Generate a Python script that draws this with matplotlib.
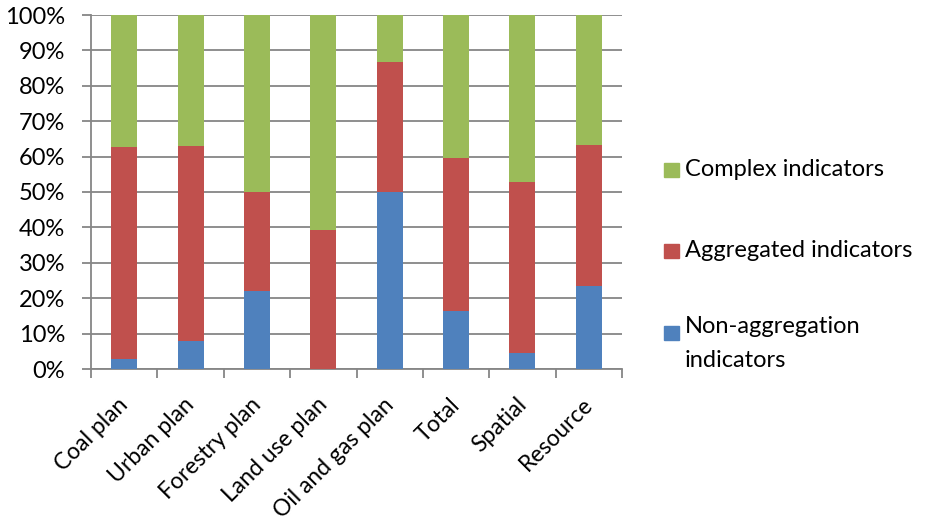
import matplotlib.pyplot as plt
import matplotlib.transforms as mtransforms
from matplotlib.patches import Rectangle
from matplotlib.ticker import PercentFormatter
import numpy as np

plt.rcParams['font.family'] = ['Lato', 'DejaVu Sans']

categories = ["Coal plan", "Urban plan", "Forestry plan", "Land use plan",
              "Oil and gas plan", "Total", "Spatial", "Resource"]
non_aggregation = [2.7, 7.8, 21.9, 0.0, 50.0, 16.4, 4.4, 23.4]
aggregated = [60.0, 55.3, 28.1, 39.2, 36.6, 43.2, 48.5, 40.0]
complex_ind = [100 - a - b for a, b in zip(non_aggregation, aggregated)]

blue = "#4F81BD"
red = "#C0504D"
green = "#9BBB59"
grid_col = "#868686"
fs = 17

fig = plt.figure(figsize=(9.27, 5.24), dpi=100)
ax = fig.add_axes([91 / 927, 1 - 369 / 524, 531 / 927, 354 / 524])

x = np.arange(len(categories))
w = 0.39
ax.bar(x, non_aggregation, w, color=blue, linewidth=0, zorder=3)
ax.bar(x, aggregated, w, bottom=non_aggregation, color=red, linewidth=0, zorder=3)
bottom2 = [a + b for a, b in zip(non_aggregation, aggregated)]
ax.bar(x, complex_ind, w, bottom=bottom2, color=green, linewidth=0, zorder=3)

ax.set_xlim(-0.5, len(categories) - 0.5)
ax.set_ylim(0, 100)
ax.set_yticks(np.arange(0, 101, 10))
ax.yaxis.set_major_formatter(PercentFormatter(decimals=0))
ax.yaxis.grid(True, color=grid_col, linewidth=1.3, zorder=0)

# category boundary ticks on the x axis, names centred under the bars
ax.set_xticks(np.arange(-0.5, len(categories), 1))
ax.set_xticklabels([])
ax.set_xticks(x, minor=True)
ax.set_xticklabels(categories, minor=True, rotation=45, ha='right',
                   rotation_mode='anchor', fontsize=16.5)
ax.tick_params(axis='x', which='minor', length=0, pad=18)
ax.tick_params(axis='x', which='major', length=6.5, color=grid_col, width=1.3)
ax.tick_params(axis='y', length=6.5, color=grid_col, width=1.3, labelsize=fs, pad=12)
shift = mtransforms.ScaledTranslation(-0.07, 0, fig.dpi_scale_trans)
for lbl in ax.get_xticklabels(minor=True):
    lbl.set_transform(lbl.get_transform() + shift)

for side in ['top', 'right']:
    ax.spines[side].set_visible(False)
for side in ['left', 'bottom']:
    ax.spines[side].set_color(grid_col)
    ax.spines[side].set_linewidth(1.3)

# legend drawn beside the plot, green on top
legend_items = [(green, "Complex indicators", 170),
                (red, "Aggregated indicators", 251),
                (blue, "Non-aggregation\nindicators", 333)]
for col, label, ypx in legend_items:
    fig.patches.append(Rectangle((664 / 927, 1 - (ypx + 7) / 524), 15 / 927, 14 / 524,
                                 transform=fig.transFigure, color=col))
    if '\n' in label:
        fig.text(685 / 927, 1 - (ypx - 17) / 524, label, fontsize=fs, va='top',
                 ha='left', linespacing=1.75)
    else:
        fig.text(685 / 927, 1 - ypx / 524, label, fontsize=fs, va='center', ha='left')

fig.savefig("out.png", dpi=100)
